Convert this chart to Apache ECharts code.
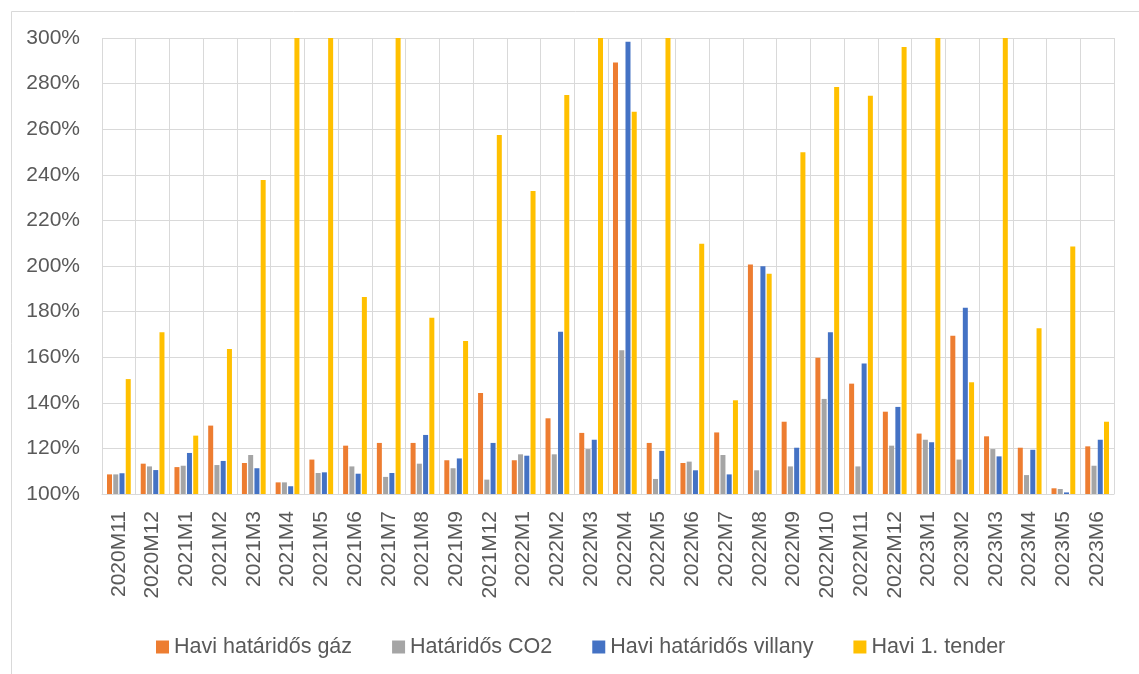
<!DOCTYPE html>
<html>
<head>
<meta charset="utf-8">
<script src="https://cdn.jsdelivr.net/npm/echarts@6/dist/echarts.min.js"></script>
<style>
  html, body { margin: 0; padding: 0; background: #ffffff; }
  #chart { width: 1139px; height: 674px; }
</style>
</head>
<body>
<div id="chart"></div>
<script>
// Monthly price ratios (%), relative to the base period
const categories = [
  '2020M11', '2020M12', '2021M1', '2021M2', '2021M3', '2021M4', '2021M5', '2021M6',
  '2021M7', '2021M8', '2021M9', '2021M12', '2022M1', '2022M2', '2022M3', '2022M4',
  '2022M5', '2022M6', '2022M7', '2022M8', '2022M9', '2022M10', '2022M11', '2022M12',
  '2023M1', '2023M2', '2023M3', '2023M4', '2023M5', '2023M6'
];

const gasFutures = [
  108.6, 113.3, 111.8, 130.0, 113.6, 105.1, 115.1, 121.2, 122.4, 122.4,
  114.8, 144.3, 114.8, 133.2, 126.8, 289.3, 122.4, 113.6, 127.0, 200.7,
  131.7, 159.8, 148.4, 136.1, 126.5, 169.4, 125.3, 120.3, 102.5, 120.9
];

const co2Futures = [
  108.6, 112.1, 112.4, 112.7, 117.1, 105.1, 109.2, 112.1, 107.5, 113.3,
  111.3, 106.3, 117.4, 117.4, 119.7, 163.0, 106.6, 114.2, 117.1, 110.4,
  112.1, 141.7, 112.1, 121.2, 123.8, 115.1, 119.7, 108.3, 102.2, 112.4
];

const powerFutures = [
  109.1, 110.5, 118.0, 114.5, 111.3, 103.4, 109.5, 108.9, 109.2, 125.9,
  115.6, 122.4, 116.8, 171.2, 123.8, 298.4, 118.9, 110.4, 108.6, 199.9,
  120.3, 170.9, 157.2, 138.2, 122.7, 181.7, 116.5, 119.4, 100.7, 123.8
];

const firstTender = [
  150.4, 170.9, 125.6, 163.6, 237.7, 320.0, 320.0, 186.4, 320.0, 177.3,
  167.1, 257.5, 232.9, 275.0, 320.0, 267.7, 320.0, 209.8, 141.1, 196.6,
  249.9, 278.5, 274.7, 296.1, 300.0, 149.0, 320.0, 172.7, 208.6, 131.7
];

const seriesNames = [
  'Havi határidős gáz',
  'Határidős CO2',
  'Havi határidős villany',
  'Havi 1. tender'
];

const palette = ['#ED7D31', '#A5A5A5', '#4472C4', '#FFC000'];
const seriesData = [gasFutures, co2Futures, powerFutures, firstTender];

const fontFamily = '"Liberation Sans", Arial, sans-serif';
const textColor = '#595959';
const gridColor = '#D9D9D9';

const chart = echarts.init(document.getElementById('chart'), null, { renderer: 'canvas' });

chart.setOption({
  animation: false,
  backgroundColor: '#ffffff',
  color: palette,
  graphic: [{
    type: 'rect',
    left: 9,
    top: 9,
    shape: { width: 1200, height: 720 },
    style: { fill: 'none', stroke: gridColor, lineWidth: 1 },
    silent: true,
    z: -1
  }],
  grid: {
    left: 102,
    right: 25,
    top: 38,
    bottom: 180,
    containLabel: false
  },
  legend: {
    left: 151,
    top: 631,
    itemWidth: 13,
    itemHeight: 13,
    itemGap: 40,
    icon: 'rect',
    data: seriesNames,
    textStyle: { color: textColor, fontSize: 21.5, fontFamily: fontFamily }
  },
  xAxis: {
    type: 'category',
    data: categories,
    boundaryGap: true,
    axisLine: { show: true, lineStyle: { color: gridColor, width: 1 } },
    axisTick: { show: false },
    splitLine: { show: true, interval: 0, lineStyle: { color: gridColor, width: 1 } },
    axisLabel: {
      interval: 0,
      rotate: 90,
      margin: 17,
      color: textColor,
      fontSize: 21,
      fontFamily: fontFamily
    }
  },
  yAxis: {
    type: 'value',
    min: 100,
    max: 300,
    interval: 20,
    axisLine: { show: false },
    axisTick: { show: false },
    splitLine: { show: true, lineStyle: { color: gridColor, width: 1 } },
    axisLabel: {
      margin: 22,
      color: textColor,
      fontSize: 21,
      fontFamily: fontFamily,
      formatter: '{value}%'
    }
  },
  series: seriesNames.map((name, i) => ({
    name: name,
    type: 'bar',
    data: seriesData[i],
    barWidth: 5,
    barGap: '25%',
    clip: true,
    itemStyle: { color: palette[i] }
  }))
});
</script>
</body>
</html>
